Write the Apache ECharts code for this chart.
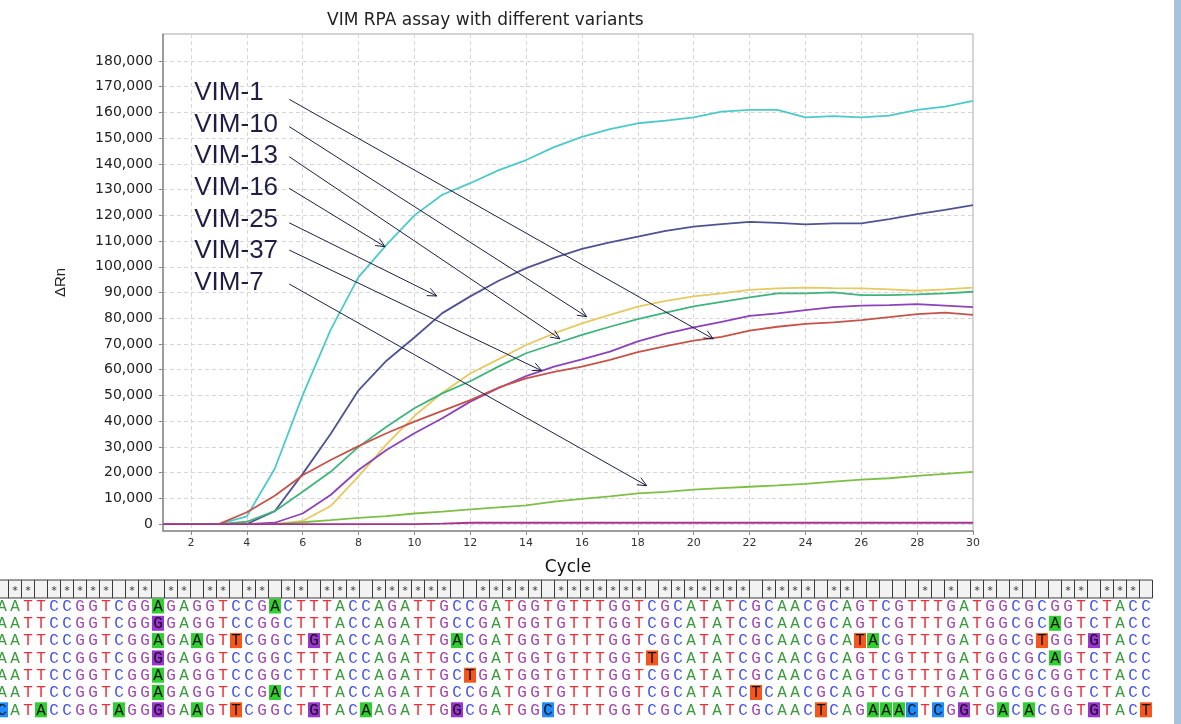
<!DOCTYPE html>
<html><head><meta charset="utf-8">
<script src="https://cdn.jsdelivr.net/npm/echarts@6/dist/echarts.min.js"></script>
<style>html,body{margin:0;padding:0;background:#fff}#c{width:1181px;height:724px}</style>
</head><body><div id="c"></div><script>
// ---------- chart data ----------
const cycles = [1,2,3,4,5,6,7,8,9,10,11,12,13,14,15,16,17,18,19,20,21,22,23,24,25,26,27,28,29,30];
const xTickLabels = [2,4,6,8,10,12,14,16,18,20,22,24,26,28,30];
const yTickLabels = [0,10000,20000,30000,40000,50000,60000,70000,80000,90000,100000,110000,120000,130000,140000,150000,160000,170000,180000];
const vim16 = [0,0,0,3000,21500,50000,75500,96000,108500,120000,128000,132500,137500,141500,146500,150500,153500,155800,156800,158100,160300,161000,161000,158100,158600,158100,158800,161000,162300,164500];
const vim25 = [0,0,0,0,5000,19500,35000,52000,63500,72500,82000,88500,94500,99500,103500,107000,109500,111700,114000,115600,116600,117500,117100,116500,116900,116900,118500,120500,122100,124000];
const vim10 = [0,0,0,0,0,1200,7000,18500,31000,42000,51000,58500,64000,69600,74100,78000,81300,84500,86800,88500,89700,91000,91600,91900,91700,91600,91200,90700,91200,91900];
const vim13 = [0,0,0,900,5000,12600,20300,30000,37800,45000,50800,55500,61200,66400,70000,73500,76700,79700,82200,84600,86400,88100,89700,89700,90100,89000,89000,89300,89700,90300];
const vim37 = [0,0,0,0,500,4100,11300,21000,28800,35300,41100,47600,52800,57500,61200,64000,67000,71000,74000,76500,78600,80900,81900,83200,84300,84900,85100,85500,84900,84300];
const vim1  = [0,0,0,4600,11000,19000,24900,30300,35300,39800,44000,48200,53000,56600,59200,61200,63800,66800,69200,71300,72800,75200,76700,77800,78400,79300,80400,81600,82200,81300];
const vim7  = [0,0,0,0,0,700,1500,2400,3100,4100,4800,5700,6500,7300,8700,9800,10800,11900,12500,13400,14000,14500,15000,15600,16500,17300,17800,18700,19500,20300];
const ntc   = [0,0,0,0,0,0,0,0,0,0,150,500,500,500,500,500,500,500,500,500,500,500,500,500,500,500,500,500,500,500];

// annotation labels and arrows (data coordinates: [cycle, value])
const annoNames = ['VIM-1','VIM-10','VIM-13','VIM-16','VIM-25','VIM-37','VIM-7'];
const annoLabelPos = [[2.12,167450],[2.12,155320],[2.12,142960],[2.12,130710],[2.12,118310],[2.12,106070],[2.12,93590]];
const annoArrowFrom = [[5.52,165100],[5.52,154500],[5.52,142800],[5.52,130500],[5.52,117100],[5.52,106500],[5.52,93300]];
const annoArrowTo = [[20.70,72000],[16.17,80600],[15.21,72000],[8.95,107800],[10.80,88650],[14.56,59610],[18.32,14910]];

// ---------- sequence alignment data ----------
const seqRows = [
 "AATTCCGGTCGGAGAGGTCCGACTTTACCAGATTGCCGATGGTGTTTGGTCGCATATCGCAACGCAGTCGTTTGATGGCGCGGTCTACC",
 "AATTCCGGTCGGGGAGGTCCGGCTTTACCAGATTGCCGATGGTGTTTGGTCGCATATCGCAACGCAGTCGTTTGATGGCGCAGTCTACC",
 "AATTCCGGTCGGAGAAGTTCGGCTGTACCAGATTGACGATGGTGTTTGGTCGCATATCGCAACGCATACGTTTGATGGCGTGGTGTACC",
 "AATTCCGGTCGGGGAGGTCCGGCTTTACCAGATTGCCGATGGTGTTTGGTTGCATATCGCAACGCAGTCGTTTGATGGCGCAGTCTACC",
 "AATTCCGGTCGGAGAGGTCCGGCTTTACCAGATTGCTGATGGTGTTTGGTCGCATATCGCAACGCAGTCGTTTGATGGCGCGGTCTACC",
 "AATTCCGGTCGGAGAGGTCCGACTTTACCAGATTGCCGATGGTGTTTGGTCGCATATCTCAACGCAGTCGTTTGATGGCGCGGTCTACC",
 "CATACCGGTAGGGGAAGTTCGGCTGTACAAGATTGGCGATGGCGTTTGGTCGCATATCGCAACTCAGAAACTCGGTGACACGGTGTACT"
];
const seqHighlights = [
 [12,21],
 [12,81],
 [12,15,18,24,35,66,67,80,84],
 [12,50,81],
 [12,36],
 [12,21,58],
 [0,3,9,12,15,18,24,28,35,42,63,67,68,69,70,72,74,77,79,84,88]
];

// ---------- styles ----------
const baseColor = {A:'#3a9a3e', T:'#ec2e3a', C:'#4250ea', G:'#a046ac'};
const hlColor = {A:'#2fd02f', T:'#f5561c', C:'#1e8cff', G:'#9b32d2'};

const chart = echarts.init(document.getElementById('c'), null, {renderer:'canvas'});
const gridLine = {show:true, lineStyle:{color:'#d6d6d6', type:[4,3], width:1}};
function mk(name, data, color) {
  return {name, type:'line', data: cycles.map((c,i)=>[c,data[i]]), showSymbol:false, symbol:'none',
    lineStyle:{color, width:1.8}, itemStyle:{color}, emphasis:{disabled:true}, animation:false};
}
chart.setOption({
  animation:false,
  title:{text:'VIM RPA assay with different variants', left:322, top:7,
    textStyle:{fontFamily:'DejaVu Sans', fontSize:17, fontWeight:'normal', color:'#222'}},
  grid:{left:163, right:208, top:34, bottom:193, show:true, borderColor:'#a8a8a8', borderWidth:1, backgroundColor:'#fff'},
  xAxis:{type:'value', min:1, max:30,
    axisLine:{show:true, onZero:false, lineStyle:{color:'#8a8a8a', width:1.5}},
    axisTick:{show:true, customValues:xTickLabels, length:4, lineStyle:{color:'#8a8a8a'}},
    axisLabel:{customValues:xTickLabels, fontFamily:'DejaVu Sans', fontSize:11, color:'#333', margin:7},
    splitLine:gridLine,
    name:'Cycle', nameLocation:'middle', nameGap:28,
    nameTextStyle:{fontFamily:'DejaVu Sans', fontSize:17, color:'#111'}},
  yAxis:{type:'value', min:-2700, max:190500,
    axisLine:{show:true, lineStyle:{color:'#8a8a8a', width:1.5}},
    axisTick:{show:true, customValues:yTickLabels, length:4, lineStyle:{color:'#8a8a8a'}},
    axisLabel:{customValues:yTickLabels, fontFamily:'DejaVu Sans', fontSize:14, color:'#222', margin:10,
      formatter:v=>Number(v).toLocaleString('en-US')},
    splitLine:gridLine,
    name:'ΔRn', nameLocation:'middle', nameGap:95, nameRotate:90,
    nameTextStyle:{fontFamily:'Liberation Sans', fontSize:15, color:'#222'}},
  series:[
    mk('VIM-16', vim16, '#4ccaca'),
    mk('VIM-25', vim25, '#4f5393'),
    mk('VIM-10', vim10, '#e6c960'),
    mk('VIM-13', vim13, '#3fb47b'),
    mk('VIM-37', vim37, '#8c42b8'),
    mk('VIM-1', vim1, '#c4544a'),
    mk('VIM-7', vim7, '#7dbf47'),
    mk('NTC', ntc, '#a8308f')
  ]
});

// ---------- graphics ----------
const g = [];
const navy = '#1f1f45';
annoNames.forEach((nm,k)=>{
  const lp = chart.convertToPixel({gridIndex:0}, annoLabelPos[k]);
  g.push({type:'text', x:lp[0], y:lp[1], z:100, silent:true,
    style:{text:nm, fill:navy, font:'26px "Liberation Sans"', align:'left', verticalAlign:'middle'}});
  const a = chart.convertToPixel({gridIndex:0}, annoArrowFrom[k]);
  const b = chart.convertToPixel({gridIndex:0}, annoArrowTo[k]);
  g.push({type:'line', z:100, silent:true, shape:{x1:a[0], y1:a[1], x2:b[0], y2:b[1]},
    style:{stroke:navy, lineWidth:1}});
  const ang = Math.atan2(b[1]-a[1], b[0]-a[0]);
  const L = 10, sp = 0.42;
  const p1 = [b[0]-L*Math.cos(ang-sp), b[1]-L*Math.sin(ang-sp)];
  const p2 = [b[0]-L*Math.cos(ang+sp), b[1]-L*Math.sin(ang+sp)];
  g.push({type:'polyline', z:100, silent:true, shape:{points:[p1,b,p2]},
    style:{stroke:navy, lineWidth:1, fill:null}});
});

// sequence panel
const pitch = 13, x0 = 2;
const nCols = seqRows[0].length;
const headTop = 580, headH = 18;
g.push({type:'rect', silent:true, shape:{x:-6, y:headTop, width:x0+pitch*nCols-6.5+6, height:headH},
  style:{fill:'#f2f2f2', stroke:'#3a3a3a', lineWidth:1}});
for (let i=0;i<nCols;i++) {
  const cx = x0 + pitch*i;
  g.push({type:'line', silent:true, shape:{x1:cx+6.5, y1:headTop, x2:cx+6.5, y2:headTop+headH},
    style:{stroke:'#3a3a3a', lineWidth:1}});
  const ch0 = seqRows[0][i];
  const conserved = seqRows.every(r=>r[i]===ch0);
  if (conserved) {
    g.push({type:'text', x:cx, y:headTop+headH/2+2, silent:true,
      style:{text:'*', fill:'#333', font:'11px "DejaVu Sans Mono"', align:'center', verticalAlign:'middle'}});
  }
}
const rowY0 = 606, rowDy = 17.3;
seqRows.forEach((row,r)=>{
  const cy = rowY0 + rowDy*r;
  const hl = new Set(seqHighlights[r]);
  for (let i=0;i<row.length;i++) {
    const ch = row[i];
    const cx = x0 + pitch*i;
    if (hl.has(i)) {
      g.push({type:'rect', silent:true, shape:{x:cx-6, y:cy-7.5, width:12, height:15},
        style:{fill:hlColor[ch]}});
    }
    g.push({type:'text', x:cx, y:cy+0.5, silent:true,
      style:{text:ch, fill: hl.has(i) ? '#111' : baseColor[ch], font:'16px "Liberation Mono"', align:'center', verticalAlign:'middle'}});
  }
});
// right edge strip
g.push({type:'rect', silent:true, shape:{x:1174, y:0, width:7, height:724}, style:{fill:'#a8c2d9'}});

chart.setOption({graphic:g});
</script></body></html>
